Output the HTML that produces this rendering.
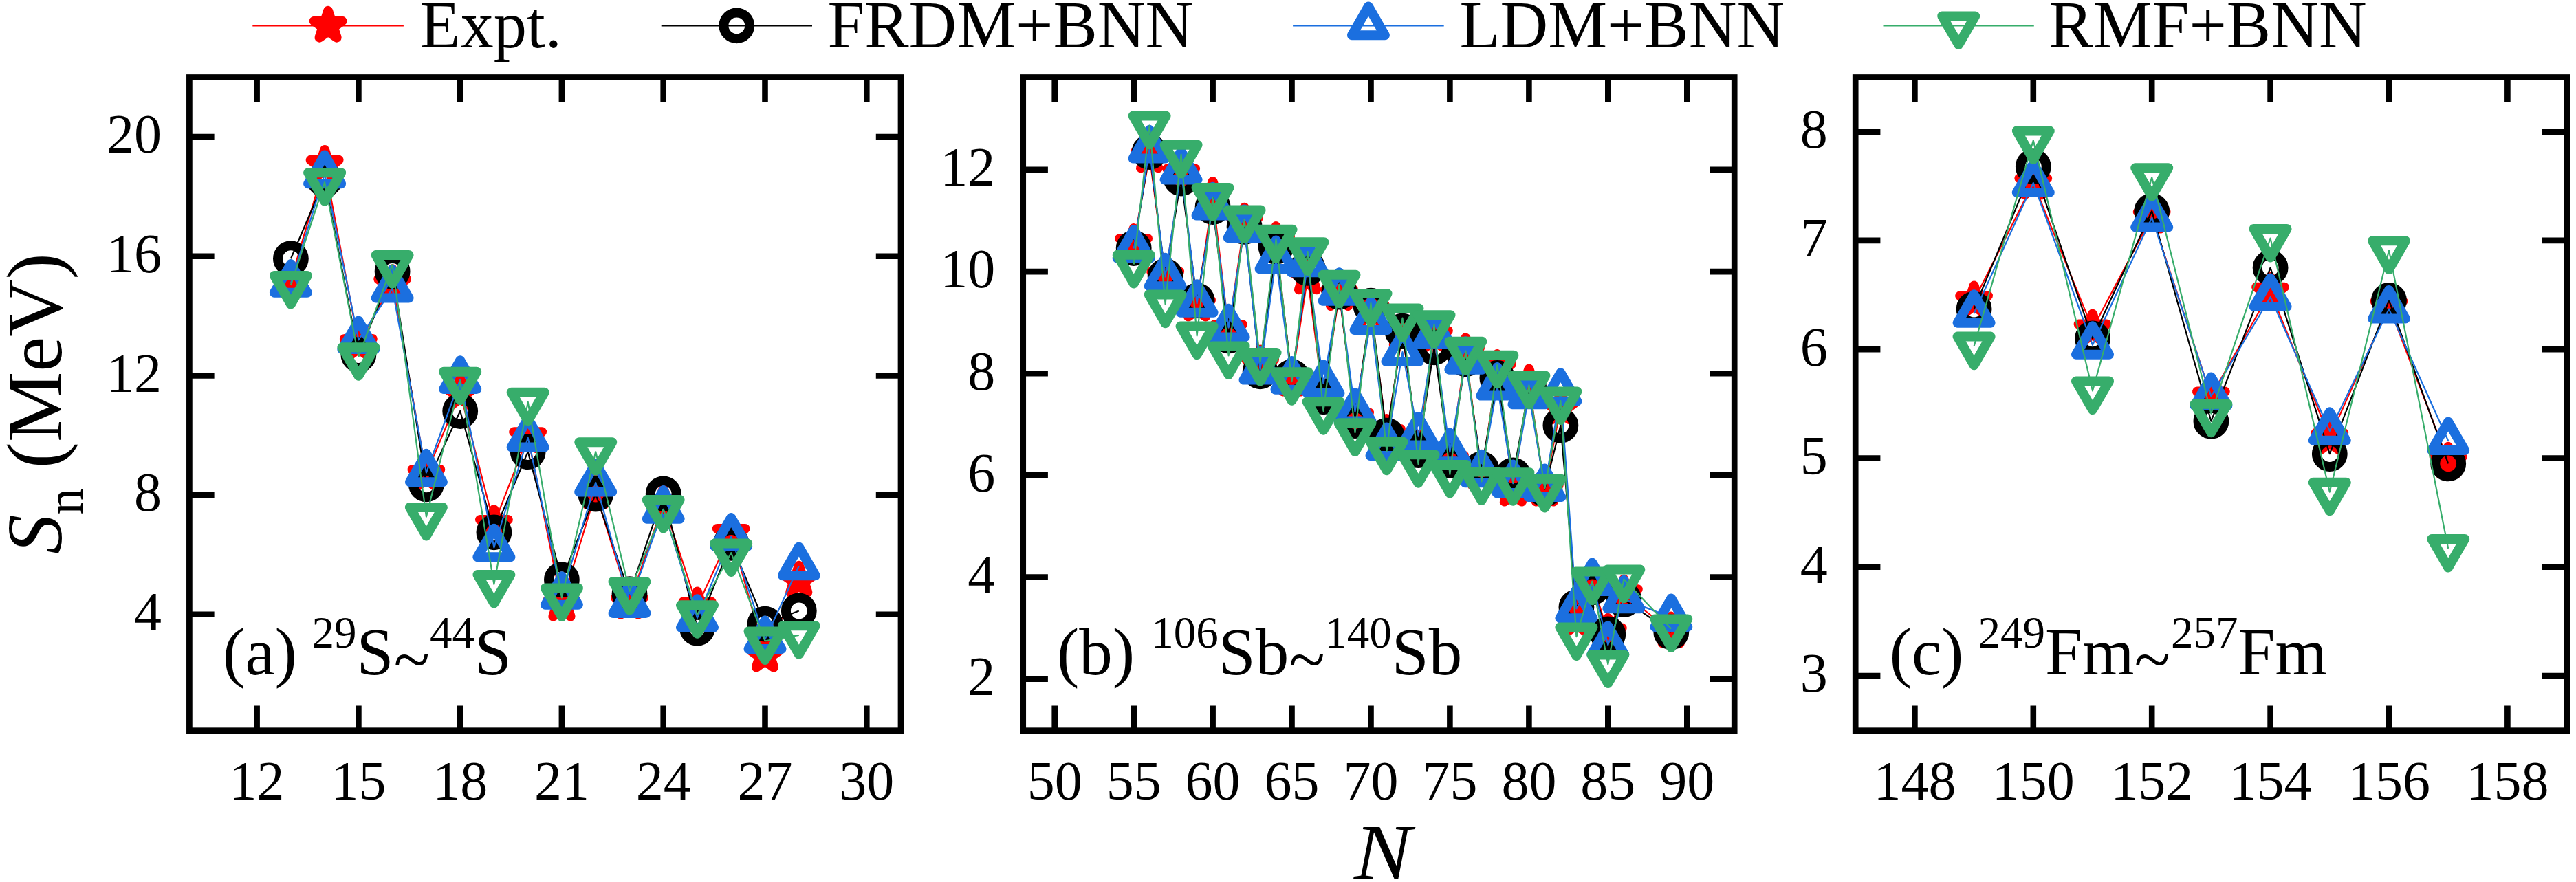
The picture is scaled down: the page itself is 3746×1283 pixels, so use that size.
<!DOCTYPE html>
<html><head><meta charset="utf-8"><title>Sn chart</title>
<style>html,body{margin:0;padding:0;background:#fff;}svg{display:block;}text{font-family:"Liberation Serif",serif;}</style></head>
<body>
<svg width="3746" height="1283" viewBox="0 0 3746 1283">
<rect width="3746" height="1283" fill="#fff"/>
<polyline fill="none" stroke="#FF0000" stroke-width="2.2" stroke-linejoin="round" points="422.9,407.9 472.1,239.5 521.4,499.5 570.6,412.7 619.9,689.6 669.2,571.6 718.4,762.6 767.7,634.9 816.9,879.3 866.2,716.5 915.5,876.3 964.7,732.2 1014.0,881.9 1063.2,775.6 1112.5,953.1 1161.8,844.2"/>
<g fill="#FF0000" stroke="#FF0000" stroke-width="14.0" stroke-linejoin="round">
<polygon points="422.9,386.4 427.7,401.3 443.3,401.3 430.7,410.4 435.5,425.3 422.9,416.1 410.2,425.3 415.0,410.4 402.4,401.3 418.0,401.3"/>
<polygon points="472.1,218.0 476.9,232.8 492.6,232.8 479.9,242.0 484.8,256.9 472.1,247.7 459.5,256.9 464.3,242.0 451.7,232.8 467.3,232.8"/>
<polygon points="521.4,478.0 526.2,492.9 541.8,492.9 529.2,502.0 534.0,516.9 521.4,507.7 508.7,516.9 513.6,502.0 500.9,492.9 516.6,492.9"/>
<polygon points="570.6,391.2 575.5,406.0 591.1,406.0 578.5,415.2 583.3,430.1 570.6,420.9 558.0,430.1 562.8,415.2 550.2,406.0 565.8,406.0"/>
<polygon points="619.9,668.1 624.7,683.0 640.3,683.0 627.7,692.2 632.5,707.0 619.9,697.8 607.3,707.0 612.1,692.2 599.5,683.0 615.1,683.0"/>
<polygon points="669.2,550.1 674.0,564.9 689.6,564.9 677.0,574.1 681.8,589.0 669.2,579.8 656.5,589.0 661.3,574.1 648.7,564.9 664.3,564.9"/>
<polygon points="718.4,741.1 723.2,755.9 738.9,755.9 726.2,765.1 731.1,780.0 718.4,770.8 705.8,780.0 710.6,765.1 698.0,755.9 713.6,755.9"/>
<polygon points="767.7,613.4 772.5,628.3 788.1,628.3 775.5,637.5 780.3,652.3 767.7,643.1 755.0,652.3 759.9,637.5 747.2,628.3 762.9,628.3"/>
<polygon points="816.9,857.8 821.8,872.7 837.4,872.7 824.8,881.9 829.6,896.7 816.9,887.5 804.3,896.7 809.1,881.9 796.5,872.7 812.1,872.7"/>
<polygon points="866.2,695.0 871.0,709.9 886.6,709.9 874.0,719.1 878.8,733.9 866.2,724.8 853.6,733.9 858.4,719.1 845.8,709.9 861.4,709.9"/>
<polygon points="915.5,854.8 920.3,869.7 935.9,869.7 923.3,878.8 928.1,893.7 915.5,884.5 902.8,893.7 907.6,878.8 895.0,869.7 910.6,869.7"/>
<polygon points="964.7,710.7 969.5,725.5 985.2,725.5 972.5,734.7 977.4,749.6 964.7,740.4 952.1,749.6 956.9,734.7 944.3,725.5 959.9,725.5"/>
<polygon points="1014.0,860.4 1018.8,875.3 1034.4,875.3 1021.8,884.5 1026.6,899.3 1014.0,890.2 1001.3,899.3 1006.2,884.5 993.5,875.3 1009.2,875.3"/>
<polygon points="1063.2,754.1 1068.1,768.9 1083.7,768.9 1071.1,778.1 1075.9,793.0 1063.2,783.8 1050.6,793.0 1055.4,778.1 1042.8,768.9 1058.4,768.9"/>
<polygon points="1112.5,931.6 1117.3,946.5 1132.9,946.5 1120.3,955.7 1125.1,970.5 1112.5,961.3 1099.9,970.5 1104.7,955.7 1092.1,946.5 1107.7,946.5"/>
<polygon points="1161.8,822.7 1166.6,837.5 1182.2,837.5 1169.6,846.7 1174.4,861.6 1161.8,852.4 1149.1,861.6 1153.9,846.7 1141.3,837.5 1156.9,837.5"/>
</g>
<polyline fill="none" stroke="#000000" stroke-width="2.2" stroke-linejoin="round" points="422.9,376.2 472.1,261.2 521.4,516.0 570.6,394.9 619.9,704.4 669.2,598.0 718.4,774.3 767.7,657.1 816.9,843.3 866.2,718.7 915.5,864.1 964.7,718.3 1014.0,913.6 1063.2,789.9 1112.5,907.6 1161.8,888.5"/>
<g fill="none" stroke="#000000" stroke-width="14.0" stroke-linejoin="round">
<circle cx="422.9" cy="376.2" r="18.9"/>
<circle cx="472.1" cy="261.2" r="18.9"/>
<circle cx="521.4" cy="516.0" r="18.9"/>
<circle cx="570.6" cy="394.9" r="18.9"/>
<circle cx="619.9" cy="704.4" r="18.9"/>
<circle cx="669.2" cy="598.0" r="18.9"/>
<circle cx="718.4" cy="774.3" r="18.9"/>
<circle cx="767.7" cy="657.1" r="18.9"/>
<circle cx="816.9" cy="843.3" r="18.9"/>
<circle cx="866.2" cy="718.7" r="18.9"/>
<circle cx="915.5" cy="864.1" r="18.9"/>
<circle cx="964.7" cy="718.3" r="18.9"/>
<circle cx="1014.0" cy="913.6" r="18.9"/>
<circle cx="1063.2" cy="789.9" r="18.9"/>
<circle cx="1112.5" cy="907.6" r="18.9"/>
<circle cx="1161.8" cy="888.5" r="18.9"/>
</g>
<polyline fill="none" stroke="#1B6FDF" stroke-width="2.2" stroke-linejoin="round" points="422.9,411.8 472.1,253.4 521.4,494.3 570.6,419.6 619.9,687.5 669.2,552.0 718.4,796.4 767.7,636.7 816.9,865.9 866.2,701.8 915.5,878.0 964.7,740.9 1014.0,898.9 1063.2,780.8 1112.5,930.1 1161.8,823.3"/>
<g fill="none" stroke="#1B6FDF" stroke-width="14.0" stroke-linejoin="round">
<polygon points="422.9,384.1 398.9,425.7 446.9,425.7"/>
<polygon points="472.1,225.6 448.1,267.2 496.1,267.2"/>
<polygon points="521.4,466.6 497.4,508.1 545.4,508.1"/>
<polygon points="570.6,391.9 546.6,433.5 594.6,433.5"/>
<polygon points="619.9,659.7 595.9,701.3 643.9,701.3"/>
<polygon points="669.2,524.3 645.2,565.9 693.2,565.9"/>
<polygon points="718.4,768.7 694.4,810.3 742.4,810.3"/>
<polygon points="767.7,609.0 743.7,650.5 791.7,650.5"/>
<polygon points="816.9,838.2 792.9,879.7 840.9,879.7"/>
<polygon points="866.2,674.1 842.2,715.6 890.2,715.6"/>
<polygon points="915.5,850.3 891.5,891.9 939.5,891.9"/>
<polygon points="964.7,713.1 940.7,754.7 988.7,754.7"/>
<polygon points="1014.0,871.2 990.0,912.7 1038.0,912.7"/>
<polygon points="1063.2,753.1 1039.2,794.7 1087.2,794.7"/>
<polygon points="1112.5,902.4 1088.5,944.0 1136.5,944.0"/>
<polygon points="1161.8,795.6 1137.8,837.2 1185.8,837.2"/>
</g>
<polyline fill="none" stroke="#37AD6B" stroke-width="2.2" stroke-linejoin="round" points="422.9,414.8 472.1,265.1 521.4,519.0 570.6,384.9 619.9,751.7 669.2,554.6 718.4,849.8 767.7,584.6 816.9,869.4 866.2,657.1 915.5,859.8 964.7,740.9 1014.0,894.1 1063.2,804.2 1112.5,932.3 1161.8,924.0"/>
<g fill="none" stroke="#37AD6B" stroke-width="14.0" stroke-linejoin="round">
<polygon points="422.9,442.6 398.9,401.0 446.9,401.0"/>
<polygon points="472.1,292.8 448.1,251.2 496.1,251.2"/>
<polygon points="521.4,546.7 497.4,505.2 545.4,505.2"/>
<polygon points="570.6,412.6 546.6,371.0 594.6,371.0"/>
<polygon points="619.9,779.4 595.9,737.9 643.9,737.9"/>
<polygon points="669.2,582.3 645.2,540.8 693.2,540.8"/>
<polygon points="718.4,877.5 694.4,836.0 742.4,836.0"/>
<polygon points="767.7,612.3 743.7,570.7 791.7,570.7"/>
<polygon points="816.9,897.1 792.9,855.5 840.9,855.5"/>
<polygon points="866.2,684.8 842.2,643.2 890.2,643.2"/>
<polygon points="915.5,887.5 891.5,845.9 939.5,845.9"/>
<polygon points="964.7,768.6 940.7,727.0 988.7,727.0"/>
<polygon points="1014.0,921.8 990.0,880.2 1038.0,880.2"/>
<polygon points="1063.2,831.9 1039.2,790.4 1087.2,790.4"/>
<polygon points="1112.5,960.0 1088.5,918.4 1136.5,918.4"/>
<polygon points="1161.8,951.8 1137.8,910.2 1185.8,910.2"/>
</g>
<path d="M373.6 1062.7V1026.5M373.6 112.5V148.7M521.4 1062.7V1026.5M521.4 112.5V148.7M669.2 1062.7V1026.5M669.2 112.5V148.7M816.9 1062.7V1026.5M816.9 112.5V148.7M964.7 1062.7V1026.5M964.7 112.5V148.7M1112.5 1062.7V1026.5M1112.5 112.5V148.7M1260.3 1062.7V1026.5M1260.3 112.5V148.7M275.4 893.7H311.6M1310.0 893.7H1273.8M275.4 720.0H311.6M1310.0 720.0H1273.8M275.4 546.4H311.6M1310.0 546.4H1273.8M275.4 372.7H311.6M1310.0 372.7H1273.8M275.4 199.1H311.6M1310.0 199.1H1273.8" stroke="#000" stroke-width="8.6" fill="none"/>
<rect x="275.4" y="112.5" width="1034.6" height="950.2" fill="none" stroke="#000" stroke-width="8.7"/>
<g font-family="'Liberation Serif', serif" font-size="80" fill="#000">
<text x="373.6" y="1163" text-anchor="middle">12</text>
<text x="521.4" y="1163" text-anchor="middle">15</text>
<text x="669.2" y="1163" text-anchor="middle">18</text>
<text x="816.9" y="1163" text-anchor="middle">21</text>
<text x="964.7" y="1163" text-anchor="middle">24</text>
<text x="1112.5" y="1163" text-anchor="middle">27</text>
<text x="1260.3" y="1163" text-anchor="middle">30</text>
<text x="234.9" y="917.0" text-anchor="end">4</text>
<text x="234.9" y="743.3" text-anchor="end">8</text>
<text x="234.9" y="569.7" text-anchor="end">12</text>
<text x="234.9" y="396.0" text-anchor="end">16</text>
<text x="234.9" y="222.4" text-anchor="end">20</text>
</g>
<text x="324.1" y="980.5" font-family="'Liberation Serif', serif" font-size="97" fill="#000"><tspan dy="0.0">(a) </tspan><tspan font-size="65" dy="-39.0" dx="-2.5">29</tspan><tspan dy="39.0">S</tspan><tspan dy="11.0">~</tspan><tspan font-size="65" dy="-50.0" dx="0">44</tspan><tspan dy="39.0">S</tspan></text>
<polyline fill="none" stroke="#FF0000" stroke-width="2.2" stroke-linejoin="round" points="1648.7,353.6 1671.6,226.9 1694.6,401.7 1717.6,252.1 1740.6,443.2 1763.6,285.4 1786.6,478.8 1809.6,323.2 1832.6,529.9 1855.6,350.6 1878.5,552.1 1901.5,403.9 1924.5,580.3 1947.5,427.7 1970.5,606.9 1993.5,450.6 2016.5,630.6 2039.5,484.0 2062.5,654.3 2085.5,487.7 2108.4,669.2 2131.4,512.8 2154.4,689.9 2177.4,536.6 2200.4,712.1 2223.4,558.0 2246.4,712.1 2269.4,592.9 2292.4,901.0 2315.4,846.9 2338.3,920.3 2361.3,864.0 2430.3,918.1"/>
<g fill="#FF0000" stroke="#FF0000" stroke-width="14.0" stroke-linejoin="round">
<polygon points="1648.7,332.1 1653.5,346.9 1669.1,346.9 1656.5,356.1 1661.3,371.0 1648.7,361.8 1636.0,371.0 1640.8,356.1 1628.2,346.9 1643.8,346.9"/>
<polygon points="1671.6,205.4 1676.5,220.3 1692.1,220.3 1679.5,229.4 1684.3,244.3 1671.6,235.1 1659.0,244.3 1663.8,229.4 1651.2,220.3 1666.8,220.3"/>
<polygon points="1694.6,380.2 1699.5,395.1 1715.1,395.1 1702.4,404.3 1707.3,419.1 1694.6,409.9 1682.0,419.1 1686.8,404.3 1674.2,395.1 1689.8,395.1"/>
<polygon points="1717.6,230.6 1722.4,245.4 1738.1,245.4 1725.4,254.6 1730.3,269.5 1717.6,260.3 1705.0,269.5 1709.8,254.6 1697.2,245.4 1712.8,245.4"/>
<polygon points="1740.6,421.7 1745.4,436.6 1761.1,436.6 1748.4,445.7 1753.2,460.6 1740.6,451.4 1728.0,460.6 1732.8,445.7 1720.2,436.6 1735.8,436.6"/>
<polygon points="1763.6,263.9 1768.4,278.8 1784.0,278.8 1771.4,288.0 1776.2,302.8 1763.6,293.6 1751.0,302.8 1755.8,288.0 1743.2,278.8 1758.8,278.8"/>
<polygon points="1786.6,457.3 1791.4,472.1 1807.0,472.1 1794.4,481.3 1799.2,496.2 1786.6,487.0 1774.0,496.2 1778.8,481.3 1766.1,472.1 1781.8,472.1"/>
<polygon points="1809.6,301.7 1814.4,316.6 1830.0,316.6 1817.4,325.7 1822.2,340.6 1809.6,331.4 1796.9,340.6 1801.8,325.7 1789.1,316.6 1804.8,316.6"/>
<polygon points="1832.6,508.4 1837.4,523.2 1853.0,523.2 1840.4,532.4 1845.2,547.3 1832.6,538.1 1819.9,547.3 1824.8,532.4 1812.1,523.2 1827.7,523.2"/>
<polygon points="1855.6,329.1 1860.4,344.0 1876.0,344.0 1863.4,353.1 1868.2,368.0 1855.6,358.8 1842.9,368.0 1847.7,353.1 1835.1,344.0 1850.7,344.0"/>
<polygon points="1878.5,530.6 1883.4,545.5 1899.0,545.5 1886.4,554.6 1891.2,569.5 1878.5,560.3 1865.9,569.5 1870.7,554.6 1858.1,545.5 1873.7,545.5"/>
<polygon points="1901.5,382.4 1906.4,397.3 1922.0,397.3 1909.4,406.5 1914.2,421.3 1901.5,412.2 1888.9,421.3 1893.7,406.5 1881.1,397.3 1896.7,397.3"/>
<polygon points="1924.5,558.8 1929.4,573.6 1945.0,573.6 1932.3,582.8 1937.2,597.7 1924.5,588.5 1911.9,597.7 1916.7,582.8 1904.1,573.6 1919.7,573.6"/>
<polygon points="1947.5,406.2 1952.3,421.0 1968.0,421.0 1955.3,430.2 1960.2,445.0 1947.5,435.9 1934.9,445.0 1939.7,430.2 1927.1,421.0 1942.7,421.0"/>
<polygon points="1970.5,585.4 1975.3,600.3 1991.0,600.3 1978.3,609.5 1983.1,624.3 1970.5,615.1 1957.9,624.3 1962.7,609.5 1950.1,600.3 1965.7,600.3"/>
<polygon points="1993.5,429.1 1998.3,444.0 2013.9,444.0 2001.3,453.2 2006.1,468.0 1993.5,458.8 1980.9,468.0 1985.7,453.2 1973.1,444.0 1988.7,444.0"/>
<polygon points="2016.5,609.1 2021.3,624.0 2036.9,624.0 2024.3,633.2 2029.1,648.0 2016.5,638.8 2003.9,648.0 2008.7,633.2 1996.0,624.0 2011.7,624.0"/>
<polygon points="2039.5,462.5 2044.3,477.3 2059.9,477.3 2047.3,486.5 2052.1,501.3 2039.5,492.2 2026.8,501.3 2031.7,486.5 2019.0,477.3 2034.7,477.3"/>
<polygon points="2062.5,632.8 2067.3,647.7 2082.9,647.7 2070.3,656.9 2075.1,671.7 2062.5,662.6 2049.8,671.7 2054.7,656.9 2042.0,647.7 2057.6,647.7"/>
<polygon points="2085.5,466.2 2090.3,481.0 2105.9,481.0 2093.3,490.2 2098.1,505.1 2085.5,495.9 2072.8,505.1 2077.6,490.2 2065.0,481.0 2080.6,481.0"/>
<polygon points="2108.4,647.7 2113.3,662.5 2128.9,662.5 2116.3,671.7 2121.1,686.5 2108.4,677.4 2095.8,686.5 2100.6,671.7 2088.0,662.5 2103.6,662.5"/>
<polygon points="2131.4,491.3 2136.3,506.2 2151.9,506.2 2139.3,515.4 2144.1,530.2 2131.4,521.1 2118.8,530.2 2123.6,515.4 2111.0,506.2 2126.6,506.2"/>
<polygon points="2154.4,668.4 2159.3,683.3 2174.9,683.3 2162.2,692.4 2167.1,707.3 2154.4,698.1 2141.8,707.3 2146.6,692.4 2134.0,683.3 2149.6,683.3"/>
<polygon points="2177.4,515.1 2182.2,529.9 2197.9,529.9 2185.2,539.1 2190.1,553.9 2177.4,544.8 2164.8,553.9 2169.6,539.1 2157.0,529.9 2172.6,529.9"/>
<polygon points="2200.4,690.6 2205.2,705.5 2220.9,705.5 2208.2,714.7 2213.0,729.5 2200.4,720.3 2187.8,729.5 2192.6,714.7 2180.0,705.5 2195.6,705.5"/>
<polygon points="2223.4,536.5 2228.2,551.4 2243.8,551.4 2231.2,560.6 2236.0,575.4 2223.4,566.2 2210.8,575.4 2215.6,560.6 2203.0,551.4 2218.6,551.4"/>
<polygon points="2246.4,690.6 2251.2,705.5 2266.8,705.5 2254.2,714.7 2259.0,729.5 2246.4,720.3 2233.8,729.5 2238.6,714.7 2225.9,705.5 2241.6,705.5"/>
<polygon points="2269.4,571.4 2274.2,586.2 2289.8,586.2 2277.2,595.4 2282.0,610.2 2269.4,601.1 2256.7,610.2 2261.6,595.4 2248.9,586.2 2264.6,586.2"/>
<polygon points="2292.4,879.5 2297.2,894.4 2312.8,894.4 2300.2,903.6 2305.0,918.4 2292.4,909.2 2279.7,918.4 2284.6,903.6 2271.9,894.4 2287.5,894.4"/>
<polygon points="2315.4,825.4 2320.2,840.3 2335.8,840.3 2323.2,849.5 2328.0,864.3 2315.4,855.2 2302.7,864.3 2307.5,849.5 2294.9,840.3 2310.5,840.3"/>
<polygon points="2338.3,898.8 2343.2,913.6 2358.8,913.6 2346.2,922.8 2351.0,937.7 2338.3,928.5 2325.7,937.7 2330.5,922.8 2317.9,913.6 2333.5,913.6"/>
<polygon points="2361.3,842.5 2366.2,857.3 2381.8,857.3 2369.2,866.5 2374.0,881.4 2361.3,872.2 2348.7,881.4 2353.5,866.5 2340.9,857.3 2356.5,857.3"/>
<polygon points="2430.3,896.6 2435.1,911.4 2450.8,911.4 2438.1,920.6 2442.9,935.5 2430.3,926.3 2417.7,935.5 2422.5,920.6 2409.9,911.4 2425.5,911.4"/>
</g>
<polyline fill="none" stroke="#000000" stroke-width="2.2" stroke-linejoin="round" points="1648.7,361.0 1671.6,221.0 1694.6,401.7 1717.6,259.5 1740.6,437.3 1763.6,301.0 1786.6,488.4 1809.6,329.9 1832.6,540.3 1855.6,358.8 1878.5,548.4 1901.5,389.9 1924.5,577.3 1947.5,424.7 1970.5,612.1 1993.5,444.7 2016.5,633.6 2039.5,481.7 2062.5,655.1 2085.5,505.4 2108.4,669.9 2131.4,522.5 2154.4,682.5 2177.4,549.9 2200.4,691.4 2223.4,565.4 2246.4,711.4 2269.4,618.8 2292.4,883.2 2315.4,854.4 2338.3,922.5 2361.3,872.1 2430.3,919.5"/>
<g fill="none" stroke="#000000" stroke-width="14.0" stroke-linejoin="round">
<circle cx="1648.7" cy="361.0" r="18.9"/>
<circle cx="1671.6" cy="221.0" r="18.9"/>
<circle cx="1694.6" cy="401.7" r="18.9"/>
<circle cx="1717.6" cy="259.5" r="18.9"/>
<circle cx="1740.6" cy="437.3" r="18.9"/>
<circle cx="1763.6" cy="301.0" r="18.9"/>
<circle cx="1786.6" cy="488.4" r="18.9"/>
<circle cx="1809.6" cy="329.9" r="18.9"/>
<circle cx="1832.6" cy="540.3" r="18.9"/>
<circle cx="1855.6" cy="358.8" r="18.9"/>
<circle cx="1878.5" cy="548.4" r="18.9"/>
<circle cx="1901.5" cy="389.9" r="18.9"/>
<circle cx="1924.5" cy="577.3" r="18.9"/>
<circle cx="1947.5" cy="424.7" r="18.9"/>
<circle cx="1970.5" cy="612.1" r="18.9"/>
<circle cx="1993.5" cy="444.7" r="18.9"/>
<circle cx="2016.5" cy="633.6" r="18.9"/>
<circle cx="2039.5" cy="481.7" r="18.9"/>
<circle cx="2062.5" cy="655.1" r="18.9"/>
<circle cx="2085.5" cy="505.4" r="18.9"/>
<circle cx="2108.4" cy="669.9" r="18.9"/>
<circle cx="2131.4" cy="522.5" r="18.9"/>
<circle cx="2154.4" cy="682.5" r="18.9"/>
<circle cx="2177.4" cy="549.9" r="18.9"/>
<circle cx="2200.4" cy="691.4" r="18.9"/>
<circle cx="2223.4" cy="565.4" r="18.9"/>
<circle cx="2246.4" cy="711.4" r="18.9"/>
<circle cx="2269.4" cy="618.8" r="18.9"/>
<circle cx="2292.4" cy="883.2" r="18.9"/>
<circle cx="2315.4" cy="854.4" r="18.9"/>
<circle cx="2338.3" cy="922.5" r="18.9"/>
<circle cx="2361.3" cy="872.1" r="18.9"/>
<circle cx="2430.3" cy="919.5" r="18.9"/>
</g>
<polyline fill="none" stroke="#1B6FDF" stroke-width="2.2" stroke-linejoin="round" points="1648.7,361.7 1671.6,216.5 1694.6,402.5 1717.6,247.6 1740.6,441.0 1763.6,299.5 1786.6,476.5 1809.6,332.1 1832.6,538.8 1855.6,377.3 1878.5,552.9 1901.5,382.5 1924.5,558.0 1947.5,424.0 1970.5,598.8 1993.5,466.2 2016.5,649.2 2039.5,512.1 2062.5,633.6 2085.5,486.9 2108.4,657.3 2131.4,524.0 2154.4,688.4 2177.4,561.7 2200.4,703.2 2223.4,574.3 2246.4,709.2 2269.4,569.9 2292.4,885.5 2315.4,846.2 2338.3,938.1 2361.3,871.4 2430.3,898.1"/>
<g fill="none" stroke="#1B6FDF" stroke-width="14.0" stroke-linejoin="round">
<polygon points="1648.7,334.0 1624.7,375.6 1672.7,375.6"/>
<polygon points="1671.6,188.8 1647.6,230.4 1695.6,230.4"/>
<polygon points="1694.6,374.8 1670.6,416.3 1718.6,416.3"/>
<polygon points="1717.6,219.9 1693.6,261.5 1741.6,261.5"/>
<polygon points="1740.6,413.3 1716.6,454.8 1764.6,454.8"/>
<polygon points="1763.6,271.8 1739.6,313.4 1787.6,313.4"/>
<polygon points="1786.6,448.8 1762.6,490.4 1810.6,490.4"/>
<polygon points="1809.6,304.4 1785.6,345.9 1833.6,345.9"/>
<polygon points="1832.6,511.1 1808.6,552.6 1856.6,552.6"/>
<polygon points="1855.6,349.6 1831.6,391.1 1879.6,391.1"/>
<polygon points="1878.5,525.1 1854.5,566.7 1902.5,566.7"/>
<polygon points="1901.5,354.8 1877.5,396.3 1925.5,396.3"/>
<polygon points="1924.5,530.3 1900.5,571.9 1948.5,571.9"/>
<polygon points="1947.5,396.2 1923.5,437.8 1971.5,437.8"/>
<polygon points="1970.5,571.1 1946.5,612.6 1994.5,612.6"/>
<polygon points="1993.5,438.5 1969.5,480.0 2017.5,480.0"/>
<polygon points="2016.5,621.4 1992.5,663.0 2040.5,663.0"/>
<polygon points="2039.5,484.4 2015.5,526.0 2063.5,526.0"/>
<polygon points="2062.5,605.9 2038.5,647.5 2086.5,647.5"/>
<polygon points="2085.5,459.2 2061.5,500.8 2109.5,500.8"/>
<polygon points="2108.4,629.6 2084.4,671.2 2132.4,671.2"/>
<polygon points="2131.4,496.2 2107.4,537.8 2155.4,537.8"/>
<polygon points="2154.4,660.7 2130.4,702.3 2178.4,702.3"/>
<polygon points="2177.4,534.0 2153.4,575.6 2201.4,575.6"/>
<polygon points="2200.4,675.5 2176.4,717.1 2224.4,717.1"/>
<polygon points="2223.4,546.6 2199.4,588.2 2247.4,588.2"/>
<polygon points="2246.4,681.4 2222.4,723.0 2270.4,723.0"/>
<polygon points="2269.4,542.2 2245.4,583.7 2293.4,583.7"/>
<polygon points="2292.4,857.8 2268.4,899.3 2316.4,899.3"/>
<polygon points="2315.4,818.5 2291.4,860.1 2339.4,860.1"/>
<polygon points="2338.3,910.4 2314.3,951.9 2362.3,951.9"/>
<polygon points="2361.3,843.7 2337.3,885.3 2385.3,885.3"/>
<polygon points="2430.3,870.4 2406.3,911.9 2454.3,911.9"/>
</g>
<polyline fill="none" stroke="#37AD6B" stroke-width="2.2" stroke-linejoin="round" points="1648.7,384.7 1671.6,182.5 1694.6,442.5 1717.6,224.7 1740.6,488.4 1763.6,286.9 1786.6,517.3 1809.6,319.5 1832.6,526.9 1855.6,347.6 1878.5,555.1 1901.5,366.2 1924.5,598.0 1947.5,413.6 1970.5,629.2 1993.5,441.0 2016.5,656.6 2039.5,462.5 2062.5,675.1 2085.5,472.1 2108.4,689.9 2131.4,510.6 2154.4,700.3 2177.4,530.6 2200.4,701.0 2223.4,560.3 2246.4,710.6 2269.4,583.2 2292.4,926.2 2315.4,845.5 2338.3,966.2 2361.3,842.5 2430.3,914.4"/>
<g fill="none" stroke="#37AD6B" stroke-width="14.0" stroke-linejoin="round">
<polygon points="1648.7,412.4 1624.7,370.8 1672.7,370.8"/>
<polygon points="1671.6,210.2 1647.6,168.6 1695.6,168.6"/>
<polygon points="1694.6,470.2 1670.6,428.6 1718.6,428.6"/>
<polygon points="1717.6,252.4 1693.6,210.8 1741.6,210.8"/>
<polygon points="1740.6,516.1 1716.6,474.5 1764.6,474.5"/>
<polygon points="1763.6,314.6 1739.6,273.0 1787.6,273.0"/>
<polygon points="1786.6,545.0 1762.6,503.4 1810.6,503.4"/>
<polygon points="1809.6,347.2 1785.6,305.6 1833.6,305.6"/>
<polygon points="1832.6,554.6 1808.6,513.1 1856.6,513.1"/>
<polygon points="1855.6,375.4 1831.6,333.8 1879.6,333.8"/>
<polygon points="1878.5,582.8 1854.5,541.2 1902.5,541.2"/>
<polygon points="1901.5,393.9 1877.5,352.3 1925.5,352.3"/>
<polygon points="1924.5,625.8 1900.5,584.2 1948.5,584.2"/>
<polygon points="1947.5,441.3 1923.5,399.7 1971.5,399.7"/>
<polygon points="1970.5,656.9 1946.5,615.3 1994.5,615.3"/>
<polygon points="1993.5,468.7 1969.5,427.1 2017.5,427.1"/>
<polygon points="2016.5,684.3 1992.5,642.7 2040.5,642.7"/>
<polygon points="2039.5,490.2 2015.5,448.6 2063.5,448.6"/>
<polygon points="2062.5,702.8 2038.5,661.2 2086.5,661.2"/>
<polygon points="2085.5,499.8 2061.5,458.2 2109.5,458.2"/>
<polygon points="2108.4,717.6 2084.4,676.0 2132.4,676.0"/>
<polygon points="2131.4,538.3 2107.4,496.8 2155.4,496.8"/>
<polygon points="2154.4,728.0 2130.4,686.4 2178.4,686.4"/>
<polygon points="2177.4,558.3 2153.4,516.8 2201.4,516.8"/>
<polygon points="2200.4,728.7 2176.4,687.2 2224.4,687.2"/>
<polygon points="2223.4,588.0 2199.4,546.4 2247.4,546.4"/>
<polygon points="2246.4,738.4 2222.4,696.8 2270.4,696.8"/>
<polygon points="2269.4,610.9 2245.4,569.4 2293.4,569.4"/>
<polygon points="2292.4,953.9 2268.4,912.4 2316.4,912.4"/>
<polygon points="2315.4,873.2 2291.4,831.6 2339.4,831.6"/>
<polygon points="2338.3,993.9 2314.3,952.4 2362.3,952.4"/>
<polygon points="2361.3,870.2 2337.3,828.6 2385.3,828.6"/>
<polygon points="2430.3,942.1 2406.3,900.5 2454.3,900.5"/>
</g>
<path d="M1533.7 1062.7V1026.5M1533.7 112.5V148.7M1648.7 1062.7V1026.5M1648.7 112.5V148.7M1763.6 1062.7V1026.5M1763.6 112.5V148.7M1878.5 1062.7V1026.5M1878.5 112.5V148.7M1993.5 1062.7V1026.5M1993.5 112.5V148.7M2108.4 1062.7V1026.5M2108.4 112.5V148.7M2223.4 1062.7V1026.5M2223.4 112.5V148.7M2338.3 1062.7V1026.5M2338.3 112.5V148.7M2453.3 1062.7V1026.5M2453.3 112.5V148.7M1487.7 987.7H1523.9M2522.2 987.7H2486.0M1487.7 839.5H1523.9M2522.2 839.5H2486.0M1487.7 691.4H1523.9M2522.2 691.4H2486.0M1487.7 543.2H1523.9M2522.2 543.2H2486.0M1487.7 395.1H1523.9M2522.2 395.1H2486.0M1487.7 246.9H1523.9M2522.2 246.9H2486.0" stroke="#000" stroke-width="8.6" fill="none"/>
<rect x="1487.7" y="112.5" width="1034.5" height="950.2" fill="none" stroke="#000" stroke-width="8.7"/>
<g font-family="'Liberation Serif', serif" font-size="80" fill="#000">
<text x="1533.7" y="1163" text-anchor="middle">50</text>
<text x="1648.7" y="1163" text-anchor="middle">55</text>
<text x="1763.6" y="1163" text-anchor="middle">60</text>
<text x="1878.5" y="1163" text-anchor="middle">65</text>
<text x="1993.5" y="1163" text-anchor="middle">70</text>
<text x="2108.4" y="1163" text-anchor="middle">75</text>
<text x="2223.4" y="1163" text-anchor="middle">80</text>
<text x="2338.3" y="1163" text-anchor="middle">85</text>
<text x="2453.3" y="1163" text-anchor="middle">90</text>
<text x="1447.2" y="1011.0" text-anchor="end">2</text>
<text x="1447.2" y="862.8" text-anchor="end">4</text>
<text x="1447.2" y="714.7" text-anchor="end">6</text>
<text x="1447.2" y="566.5" text-anchor="end">8</text>
<text x="1447.2" y="418.4" text-anchor="end">10</text>
<text x="1447.2" y="270.2" text-anchor="end">12</text>
</g>
<text x="1537.0" y="980.5" font-family="'Liberation Serif', serif" font-size="97" fill="#000"><tspan dy="0.0">(b) </tspan><tspan font-size="65" dy="-39.0" dx="0">106</tspan><tspan dy="39.0">Sb</tspan><tspan dy="11.0">~</tspan><tspan font-size="65" dy="-50.0" dx="-0.5">140</tspan><tspan dy="39.0">Sb</tspan></text>
<polyline fill="none" stroke="#FF0000" stroke-width="2.2" stroke-linejoin="round" points="2870.6,437.0 2956.8,266.0 3043.0,478.1 3129.2,315.1 3215.4,576.3 3301.6,424.3 3387.8,636.4 3474.0,444.9 3560.2,671.2"/>
<g fill="#FF0000" stroke="#FF0000" stroke-width="14.0" stroke-linejoin="round">
<polygon points="2870.6,415.5 2875.4,430.3 2891.0,430.3 2878.4,439.5 2883.2,454.4 2870.6,445.2 2858.0,454.4 2862.8,439.5 2850.2,430.3 2865.8,430.3"/>
<polygon points="2956.8,244.5 2961.6,259.4 2977.2,259.4 2964.6,268.5 2969.4,283.4 2956.8,274.2 2944.2,283.4 2949.0,268.5 2936.4,259.4 2952.0,259.4"/>
<polygon points="3043.0,456.6 3047.8,471.5 3063.4,471.5 3050.8,480.7 3055.6,495.5 3043.0,486.3 3030.4,495.5 3035.2,480.7 3022.6,471.5 3038.2,471.5"/>
<polygon points="3129.2,293.6 3134.0,308.4 3149.6,308.4 3137.0,317.6 3141.8,332.5 3129.2,323.3 3116.6,332.5 3121.4,317.6 3108.8,308.4 3124.4,308.4"/>
<polygon points="3215.4,554.8 3220.2,569.6 3235.8,569.6 3223.2,578.8 3228.0,593.7 3215.4,584.5 3202.8,593.7 3207.6,578.8 3195.0,569.6 3210.6,569.6"/>
<polygon points="3301.6,402.8 3306.4,417.7 3322.0,417.7 3309.4,426.8 3314.2,441.7 3301.6,432.5 3289.0,441.7 3293.8,426.8 3281.2,417.7 3296.8,417.7"/>
<polygon points="3387.8,614.9 3392.6,629.8 3408.2,629.8 3395.6,639.0 3400.4,653.8 3387.8,644.6 3375.2,653.8 3380.0,639.0 3367.4,629.8 3383.0,629.8"/>
<polygon points="3474.0,423.4 3478.8,438.2 3494.4,438.2 3481.8,447.4 3486.6,462.3 3474.0,453.1 3461.4,462.3 3466.2,447.4 3453.6,438.2 3469.2,438.2"/>
<polygon points="3560.2,649.7 3565.0,664.6 3580.6,664.6 3568.0,673.8 3572.8,688.6 3560.2,679.5 3547.6,688.6 3552.4,673.8 3539.8,664.6 3555.4,664.6"/>
</g>
<polyline fill="none" stroke="#000000" stroke-width="2.2" stroke-linejoin="round" points="2870.6,449.6 2956.8,242.3 3043.0,492.4 3129.2,307.2 3215.4,612.7 3301.6,389.5 3387.8,660.2 3474.0,437.0 3560.2,674.4"/>
<g fill="none" stroke="#000000" stroke-width="14.0" stroke-linejoin="round">
<circle cx="2870.6" cy="449.6" r="18.9"/>
<circle cx="2956.8" cy="242.3" r="18.9"/>
<circle cx="3043.0" cy="492.4" r="18.9"/>
<circle cx="3129.2" cy="307.2" r="18.9"/>
<circle cx="3215.4" cy="612.7" r="18.9"/>
<circle cx="3301.6" cy="389.5" r="18.9"/>
<circle cx="3387.8" cy="660.2" r="18.9"/>
<circle cx="3474.0" cy="437.0" r="18.9"/>
<circle cx="3560.2" cy="674.4" r="18.9"/>
</g>
<polyline fill="none" stroke="#1B6FDF" stroke-width="2.2" stroke-linejoin="round" points="2870.6,456.0 2956.8,266.0 3043.0,501.9 3129.2,316.7 3215.4,576.3 3301.6,432.2 3387.8,626.9 3474.0,449.6 3560.2,641.2"/>
<g fill="none" stroke="#1B6FDF" stroke-width="14.0" stroke-linejoin="round">
<polygon points="2870.6,428.2 2846.6,469.8 2894.6,469.8"/>
<polygon points="2956.8,238.3 2932.8,279.9 2980.8,279.9"/>
<polygon points="3043.0,474.2 3019.0,515.7 3067.0,515.7"/>
<polygon points="3129.2,288.9 3105.2,330.5 3153.2,330.5"/>
<polygon points="3215.4,548.6 3191.4,590.1 3239.4,590.1"/>
<polygon points="3301.6,404.5 3277.6,446.1 3325.6,446.1"/>
<polygon points="3387.8,599.2 3363.8,640.8 3411.8,640.8"/>
<polygon points="3474.0,421.9 3450.0,463.5 3498.0,463.5"/>
<polygon points="3560.2,613.5 3536.2,655.0 3584.2,655.0"/>
</g>
<polyline fill="none" stroke="#37AD6B" stroke-width="2.2" stroke-linejoin="round" points="2870.6,503.5 2956.8,204.3 3043.0,568.4 3129.2,258.1 3215.4,601.6 3301.6,346.7 3387.8,715.6 3474.0,364.1 3560.2,797.9"/>
<g fill="none" stroke="#37AD6B" stroke-width="14.0" stroke-linejoin="round">
<polygon points="2870.6,531.2 2846.6,489.6 2894.6,489.6"/>
<polygon points="2956.8,232.0 2932.8,190.4 2980.8,190.4"/>
<polygon points="3043.0,596.1 3019.0,554.5 3067.0,554.5"/>
<polygon points="3129.2,285.8 3105.2,244.2 3153.2,244.2"/>
<polygon points="3215.4,629.3 3191.4,587.7 3239.4,587.7"/>
<polygon points="3301.6,374.4 3277.6,332.9 3325.6,332.9"/>
<polygon points="3387.8,743.3 3363.8,701.7 3411.8,701.7"/>
<polygon points="3474.0,391.9 3450.0,350.3 3498.0,350.3"/>
<polygon points="3560.2,825.6 3536.2,784.0 3584.2,784.0"/>
</g>
<path d="M2784.4 1062.7V1026.5M2784.4 112.5V148.7M2956.8 1062.7V1026.5M2956.8 112.5V148.7M3129.2 1062.7V1026.5M3129.2 112.5V148.7M3301.6 1062.7V1026.5M3301.6 112.5V148.7M3474.0 1062.7V1026.5M3474.0 112.5V148.7M3646.4 1062.7V1026.5M3646.4 112.5V148.7M2698.2 983.1H2734.4M3732.8 983.1H3696.6M2698.2 824.8H2734.4M3732.8 824.8H3696.6M2698.2 666.5H2734.4M3732.8 666.5H3696.6M2698.2 508.2H2734.4M3732.8 508.2H3696.6M2698.2 349.9H2734.4M3732.8 349.9H3696.6M2698.2 191.6H2734.4M3732.8 191.6H3696.6" stroke="#000" stroke-width="8.6" fill="none"/>
<rect x="2698.2" y="112.5" width="1034.6" height="950.2" fill="none" stroke="#000" stroke-width="8.7"/>
<g font-family="'Liberation Serif', serif" font-size="80" fill="#000">
<text x="2784.4" y="1163" text-anchor="middle">148</text>
<text x="2956.8" y="1163" text-anchor="middle">150</text>
<text x="3129.2" y="1163" text-anchor="middle">152</text>
<text x="3301.6" y="1163" text-anchor="middle">154</text>
<text x="3474.0" y="1163" text-anchor="middle">156</text>
<text x="3646.4" y="1163" text-anchor="middle">158</text>
<text x="2657.7" y="1006.4" text-anchor="end">3</text>
<text x="2657.7" y="848.1" text-anchor="end">4</text>
<text x="2657.7" y="689.8" text-anchor="end">5</text>
<text x="2657.7" y="531.5" text-anchor="end">6</text>
<text x="2657.7" y="373.2" text-anchor="end">7</text>
<text x="2657.7" y="214.9" text-anchor="end">8</text>
</g>
<text x="2747.7" y="980.5" font-family="'Liberation Serif', serif" font-size="97" fill="#000"><tspan dy="0.0">(c) </tspan><tspan font-size="65" dy="-39.0" dx="-3">249</tspan><tspan dy="39.0">Fm</tspan><tspan dy="11.0">~</tspan><tspan font-size="65" dy="-50.0" dx="1">257</tspan><tspan dy="39.0">Fm</tspan></text>
<line x1="367.3" y1="37.3" x2="586.9" y2="37.3" stroke="#FF0000" stroke-width="2.2"/>
<g fill="#FF0000" stroke="#FF0000" stroke-width="14.0" stroke-linejoin="round"><polygon points="477.1,15.8 481.9,30.7 497.5,30.7 484.9,39.8 489.7,54.7 477.1,45.5 464.5,54.7 469.3,39.8 456.7,30.7 472.3,30.7"/></g>
<text x="610.5" y="69" font-family="'Liberation Serif', serif" font-size="96.5" fill="#000">Expt.</text>
<line x1="961.7" y1="37.3" x2="1181.0" y2="37.3" stroke="#000000" stroke-width="2.2"/>
<g fill="none" stroke="#000000" stroke-width="14.0" stroke-linejoin="round"><circle cx="1071.3" cy="37.3" r="18.9"/></g>
<text x="1203.5" y="69" font-family="'Liberation Serif', serif" font-size="96.5" fill="#000">FRDM+BNN</text>
<line x1="1880.1" y1="37.3" x2="2099.7" y2="37.3" stroke="#1B6FDF" stroke-width="2.2"/>
<g fill="none" stroke="#1B6FDF" stroke-width="14.0" stroke-linejoin="round"><polygon points="1989.9,9.6 1965.9,51.2 2013.9,51.2"/></g>
<text x="2122.5" y="69" font-family="'Liberation Serif', serif" font-size="96.5" fill="#000">LDM+BNN</text>
<line x1="2738.5" y1="37.3" x2="2957.8" y2="37.3" stroke="#37AD6B" stroke-width="2.2"/>
<g fill="none" stroke="#37AD6B" stroke-width="14.0" stroke-linejoin="round"><polygon points="2848.2,65.0 2824.2,23.4 2872.2,23.4"/></g>
<text x="2979.6" y="69" font-family="'Liberation Serif', serif" font-size="96.5" fill="#000">RMF+BNN</text>
<text transform="translate(2010.7,1278) scale(1.09,1)" text-anchor="middle" font-family="'Liberation Serif', serif" font-style="italic" font-size="115" fill="#000">N</text>
<text transform="translate(89.1,806) rotate(-90)" font-family="'Liberation Serif', serif" font-size="115" fill="#000"><tspan font-style="italic">S</tspan><tspan font-size="77" dy="31">n</tspan><tspan dy="-31"> (MeV)</tspan></text>
</svg>
</body></html>
